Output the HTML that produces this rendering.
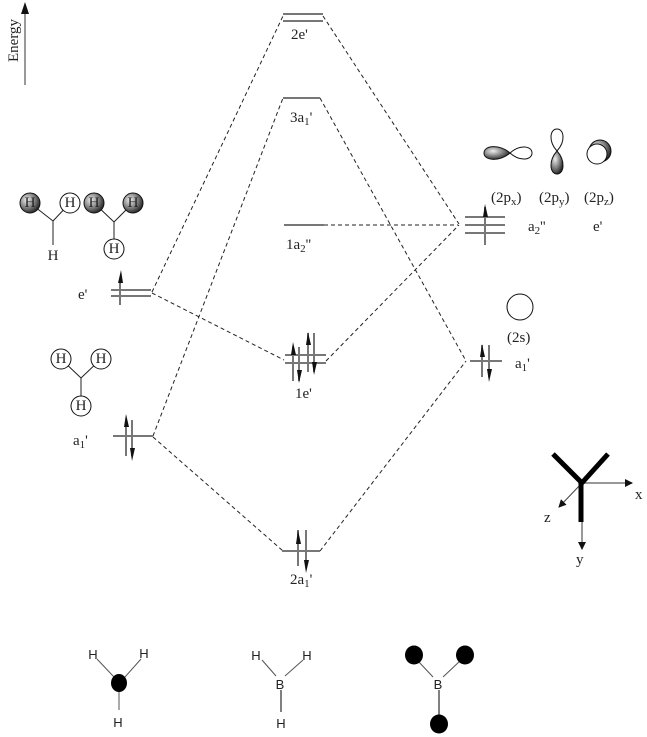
<!DOCTYPE html>
<html><head><style>
html,body{margin:0;padding:0;background:#fff;}
svg{display:block;}
text{font-family:"Liberation Serif",serif;font-size:15px;fill:#222;}
.s{font-family:"Liberation Sans",sans-serif;font-size:13px;}
</style></head><body>
<svg width="647" height="737" viewBox="0 0 647 737" xmlns="http://www.w3.org/2000/svg">
<defs>
<radialGradient id="g" cx="0.35" cy="0.35" r="0.7"><stop offset="0" stop-color="#eee"/><stop offset="0.6" stop-color="#777"/><stop offset="1" stop-color="#222"/></radialGradient>
<marker id="ah" markerWidth="8" markerHeight="8" refX="7" refY="4" orient="auto" markerUnits="userSpaceOnUse"><path d="M0,0 L8,4 L0,8 z" fill="#111"/></marker>
</defs>
<line x1="25" y1="85" x2="25" y2="10" stroke="#777" stroke-width="1.5"/>
<path d="M21,14 L25,2 L29,14 z" fill="#111"/>
<text x="0" y="0" transform="translate(18,62) rotate(-90)">Energy</text>

<g stroke="#222" stroke-width="1" stroke-dasharray="4,3" fill="none">
<line x1="152" y1="292" x2="283" y2="16"/>
<line x1="152" y1="293" x2="284" y2="360"/>
<line x1="153" y1="436" x2="283" y2="98"/>
<line x1="153" y1="437" x2="283" y2="551"/>
<line x1="323" y1="16" x2="459" y2="224"/>
<line x1="320" y1="98" x2="466" y2="361"/>
<line x1="320" y1="551" x2="466" y2="361"/>
<line x1="324" y1="225" x2="458" y2="225"/>
<line x1="326" y1="361" x2="459" y2="225"/>
</g>

<g stroke="#777" stroke-width="2">
<line x1="283" y1="14" x2="323" y2="14"/>
<line x1="283" y1="21" x2="323" y2="21"/>
<line x1="283" y1="98" x2="320" y2="98"/>
<line x1="284" y1="225" x2="324" y2="225"/>
<line x1="285" y1="355" x2="326" y2="355"/>
<line x1="285" y1="363" x2="326" y2="363"/>
<line x1="293" y1="347" x2="293" y2="381"/>
<line x1="299" y1="347" x2="299" y2="381"/>
<line x1="308" y1="333" x2="308" y2="372"/>
<line x1="314" y1="333" x2="314" y2="372"/>
<line x1="282" y1="551" x2="320" y2="551"/>
<line x1="298" y1="530" x2="298" y2="566"/>
<line x1="306" y1="530" x2="306" y2="566"/>
<line x1="111" y1="290" x2="151" y2="290"/>
<line x1="111" y1="296" x2="151" y2="296"/>
<line x1="120" y1="282" x2="120" y2="305"/>
<line x1="113" y1="436" x2="153" y2="436"/>
<line x1="126" y1="420" x2="126" y2="456"/>
<line x1="132" y1="420" x2="132" y2="456"/>
<line x1="465" y1="217" x2="505" y2="217"/>
<line x1="465" y1="225" x2="505" y2="225"/>
<line x1="465" y1="233" x2="505" y2="233"/>
<line x1="485" y1="207" x2="485" y2="245"/>
<line x1="470" y1="361" x2="502" y2="361"/>
<line x1="482" y1="345" x2="482" y2="377"/>
<line x1="489" y1="345" x2="489" y2="377"/>
</g>
<g fill="#111">
<path d="M118,283 L121,270 L123,283 z"/>
<path d="M124,427 L126,414 L129,427 z"/>
<path d="M130,448 L132,461 L135,448 z"/>
<path d="M291,355 L293,342 L296,355 z"/>
<path d="M297,370 L299,383 L302,370 z"/>
<path d="M306,345 L308,332 L311,345 z"/>
<path d="M312,362 L314,375 L317,362 z"/>
<path d="M296,544 L298,530 L301,544 z"/>
<path d="M304,560 L306,573 L309,560 z"/>
<path d="M483,217 L485,204 L488,217 z"/>
<path d="M480,357 L482,344 L485,357 z"/>
<path d="M487,369 L489,382 L492,369 z"/>
</g>

<text x="291" y="39">2e'</text>
<text x="290" y="122">3a<tspan font-size="11" dy="3">1</tspan><tspan dy="-3">'</tspan></text>
<text x="286" y="249">1a<tspan font-size="11" dy="3">2</tspan><tspan dy="-3">''</tspan></text>
<text x="295" y="398">1e'</text>
<text x="290" y="584">2a<tspan font-size="11" dy="3">1</tspan><tspan dy="-3">'</tspan></text>
<text x="78" y="299">e'</text>
<text x="73" y="445">a<tspan font-size="11" dy="3">1</tspan><tspan dy="-3">'</tspan></text>
<text x="528" y="231">a<tspan font-size="11" dy="3">2</tspan><tspan dy="-3">''</tspan></text>
<text x="593" y="231">e'</text>
<text x="515" y="368">a<tspan font-size="11" dy="3">1</tspan><tspan dy="-3">'</tspan></text>
<text x="507" y="342">(2s)</text>
<circle cx="520" cy="307" r="13" fill="none" stroke="#111" stroke-width="1"/>
<text x="491" y="202">(2p<tspan font-size="11" dy="3">x</tspan><tspan dy="-3">)</tspan></text>
<text x="539" y="202">(2p<tspan font-size="11" dy="3">y</tspan><tspan dy="-3">)</tspan></text>
<text x="584" y="202">(2p<tspan font-size="11" dy="3">z</tspan><tspan dy="-3">)</tspan></text>

<path d="M510,153 C500,144 484,145 484,153 C484,161 500,162 510,153 z" fill="url(#g)" stroke="#111"/>
<path d="M510,153 C520,144 532,146 532,153 C532,160 520,162 510,153 z" fill="#fff" stroke="#111"/>
<path d="M557,151 C548,141 550,129 557,129 C564,129 566,141 557,151 z" fill="#fff" stroke="#111"/>
<path d="M557,151 C548,161 550,174 557,174 C564,174 566,161 557,151 z" fill="url(#g)" stroke="#111"/>
<circle cx="600" cy="151" r="11" fill="url(#g)" stroke="#111"/>
<circle cx="597" cy="154" r="10" fill="#fff" stroke="#111"/>

<g stroke="#222" stroke-width="1" fill="none">
<line x1="30" y1="203" x2="53" y2="221"/><line x1="70" y1="203" x2="53" y2="221"/><line x1="53" y1="221" x2="53" y2="245"/>
<line x1="94" y1="203" x2="114" y2="222"/><line x1="133" y1="203" x2="114" y2="222"/><line x1="114" y1="222" x2="114" y2="249"/>
<line x1="61" y1="359" x2="81" y2="378"/><line x1="101" y1="359" x2="81" y2="378"/><line x1="81" y1="378" x2="81" y2="406"/>
</g>
<g stroke="#111" stroke-width="1">
<circle cx="30" cy="203" r="10" fill="url(#g)"/>
<circle cx="70" cy="203" r="10" fill="#fff"/>
<circle cx="94" cy="203" r="10" fill="url(#g)"/>
<circle cx="133" cy="203" r="10" fill="url(#g)"/>
<circle cx="114" cy="249" r="10" fill="#fff"/>
<circle cx="61" cy="359" r="10" fill="#fff"/>
<circle cx="101" cy="359" r="10" fill="#fff"/>
<circle cx="81" cy="406" r="10" fill="#fff"/>
</g>
<g text-anchor="middle">
<text x="30" y="207" font-size="12">H</text><text x="70" y="207" font-size="12">H</text>
<text x="94" y="207" font-size="12">H</text><text x="133" y="207" font-size="12">H</text>
<text x="114" y="253" font-size="12">H</text><text x="53" y="260" font-size="12">H</text>
<text x="61" y="363" font-size="12">H</text><text x="101" y="363" font-size="12">H</text><text x="81" y="410" font-size="12">H</text>
</g>

<line x1="582" y1="483" x2="632" y2="483" stroke="#777" stroke-width="1.5" marker-end="url(#ah)"/>
<line x1="582" y1="483" x2="559" y2="507" stroke="#444" stroke-width="1" marker-end="url(#ah)"/>
<line x1="582" y1="505" x2="582" y2="549" stroke="#777" stroke-width="1.5" marker-end="url(#ah)"/>
<g stroke="#000" stroke-width="5" stroke-linecap="butt">
<line x1="553" y1="454" x2="582" y2="483"/>
<line x1="608" y1="454" x2="580" y2="485"/>
<line x1="581" y1="481" x2="581" y2="522"/>
</g>
<text x="635" y="499">x</text>
<text x="544" y="522">z</text>
<text x="576" y="564">y</text>

<g stroke="#555" stroke-width="1">
<line x1="97" y1="659" x2="114" y2="677"/><line x1="141" y1="659" x2="125" y2="677"/>
<line x1="119" y1="690" x2="119" y2="710"/>
<line x1="262" y1="660" x2="276" y2="676"/><line x1="303" y1="660" x2="285" y2="676"/>
<line x1="281" y1="690" x2="281" y2="712" stroke-width="1.5"/>
<line x1="418" y1="661" x2="433" y2="677"/><line x1="460" y1="661" x2="443" y2="677"/>
<line x1="439" y1="690" x2="439" y2="716" stroke-width="1.5"/>
</g>
<ellipse cx="119" cy="683" rx="8" ry="9" fill="#000"/>
<ellipse cx="414" cy="655" rx="9" ry="9.5" fill="#000"/>
<ellipse cx="465" cy="655" rx="9" ry="9.5" fill="#000"/>
<ellipse cx="439" cy="724" rx="9" ry="9.5" fill="#000"/>
<g text-anchor="middle">
<text class="s" x="93" y="659">H</text><text class="s" x="144" y="658">H</text><text class="s" x="118" y="727">H</text>
<text class="s" x="256" y="660">H</text><text class="s" x="307" y="660">H</text><text class="s" x="280" y="689">B</text><text class="s" x="281" y="728">H</text>
<text class="s" x="438" y="689">B</text>
</g>
</svg>
</body></html>
